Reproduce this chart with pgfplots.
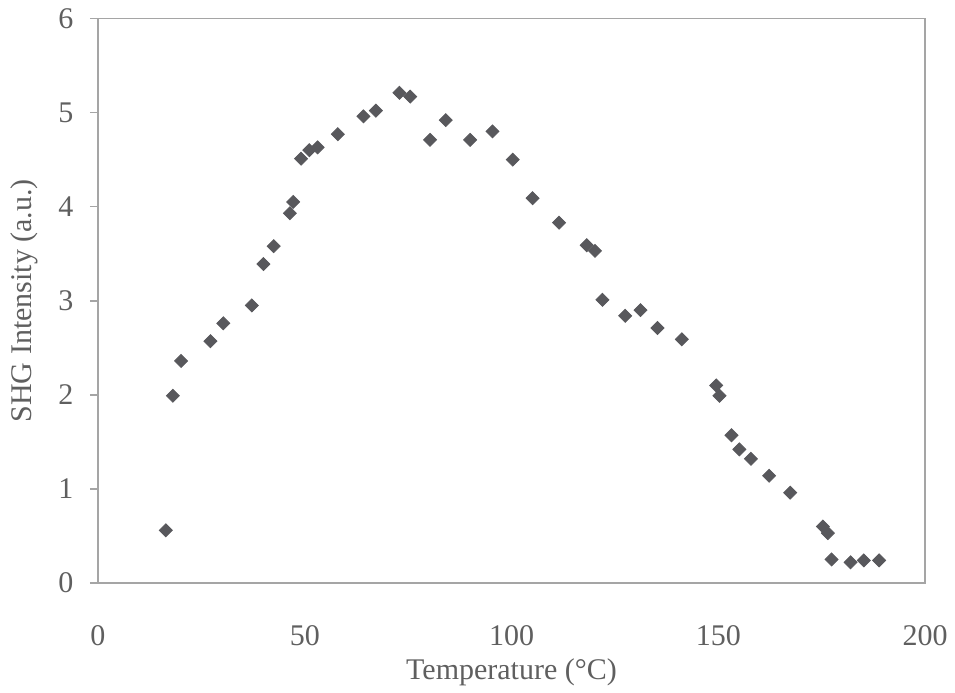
\documentclass[border=0pt]{standalone}
\usepackage{pgfplots}
\pgfplotsset{compat=1.18}
\usepackage{fontspec}
\setmainfont{Liberation Serif}
\definecolor{txt}{RGB}{95,95,95}
\definecolor{frame}{RGB}{165,165,165}
\definecolor{mk}{RGB}{88,88,92}
\begin{document}
\begin{tikzpicture}
\begin{axis}[
  scale only axis,
  width=413.5bp, height=282.25bp,
  xmin=0, xmax=200, ymin=0, ymax=6,
  xtick={0,50,...,200}, ytick={0,1,...,6},
  axis line style={frame, line width=0.8bp},
  tick style={frame, line width=0.8bp},
  x tick style={draw=none},
  tick align=outside, major tick length=4bp,
  xtick pos=bottom, ytick pos=left,
  font=\fontsize{15bp}{17bp}\selectfont,
  ticklabel style={text=txt},
  /pgf/number format/assume math mode=true,
  xticklabel style={anchor=center, yshift=-22.5bp},
  yticklabel style={anchor=center, xshift=-12bp},
  xlabel={Temperature (°C)},
  ylabel={SHG Intensity (a.u.)},
  label style={text=txt},
  xlabel style={at={([yshift=-44.5bp]axis description cs:0.5,0)}, anchor=center},
  ylabel style={at={([xshift=-37bp]axis description cs:0,0.5)}, anchor=center},
]
\coordinate (SW) at (rel axis cs:0,0);
\coordinate (NE) at (rel axis cs:1,1);
\addplot[only marks, mark=square*, mark size=2.3bp, mark options={rotate=45, fill=mk, draw=mk}] coordinates {
(16.4,0.56) (18.1,1.99) (20.1,2.36) (27.2,2.57) (30.3,2.76) (37.2,2.95)
(40.0,3.39) (42.5,3.58) (46.4,3.93) (47.2,4.05) (49.1,4.51) (51.1,4.60)
(53.1,4.63) (58.0,4.77) (64.2,4.96) (67.2,5.02) (72.9,5.21) (75.5,5.17)
(80.3,4.71) (84.1,4.92) (90.0,4.71) (95.4,4.80) (100.3,4.50) (105.1,4.09)
(111.5,3.83) (118.2,3.59) (120.2,3.53) (122.0,3.01) (127.5,2.84) (131.2,2.90)
(135.3,2.71) (141.2,2.59) (149.5,2.10) (150.3,1.99) (153.2,1.57) (155.1,1.42)
(157.9,1.32) (162.3,1.14) (167.4,0.96) (175.3,0.60) (176.5,0.53) (177.4,0.25)
(182.0,0.22) (185.2,0.24) (188.9,0.24)
};
\end{axis}
\pgfresetboundingbox
\path ([shift={(-49bp,-55bp)}]SW) rectangle ([shift={(15bp,9.25bp)}]NE);
\end{tikzpicture}
\end{document}
